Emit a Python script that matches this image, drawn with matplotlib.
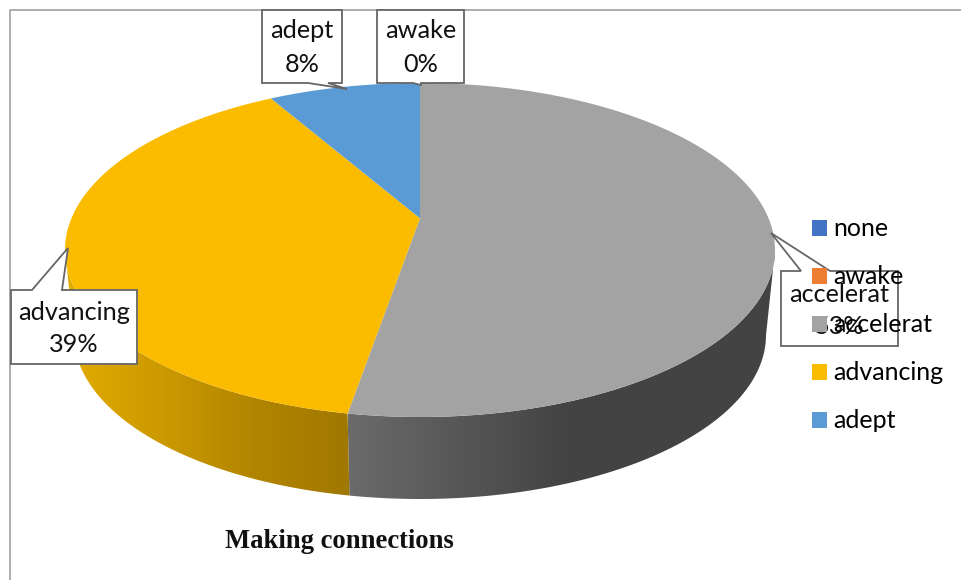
import numpy as np
import matplotlib
matplotlib.use('Agg')
import matplotlib.pyplot as plt

from matplotlib.colors import LinearSegmentedColormap
from matplotlib.patches import Patch, Polygon

categories = ['none', 'awake', 'accelerat', 'advancing', 'adept']
percents = [0, 0, 52.7, 39, 8.3]
colors = ['#4472C4', '#ED7D31', '#A3A3A3', '#FBBC00', '#5B9BD5']
chart_title = 'Making connections'

# top face and lower rim of the tilted disk, in pixels
TOP = (420, 250, 355, 167)
RIM = (420, 335, 346, 164)
TILT = 0.19  # moves the pie centre up from the ellipse centre

FONT_SIZE = 18.2

# wall shading, left to right
wall_shades = {
    'accelerat': ['#6B6B6B', '#444444', '#434343'],
    'advancing': ['#E2AC00', '#CC9A00', '#B28500', '#A07800'],
}

# box (x0, y0, x1, y1), pointer (base start, tip, base end), text centre y
callouts = {
    'adept': ((262, 10, 342, 83), ((308, 83), (347, 89), (328, 83)), (31, 65)),
    'awake': ((377, 10, 464, 83), ((413, 83), (421, 85), (421, 83)), (31, 65)),
    'advancing': ((11, 290, 137, 364), ((32, 290), (68, 248), (62, 290)), (312, 345)),
    'accelerat': ((781, 271, 898, 346), ((801, 271), (771, 233), (830, 271)), (295, 327)),
}


def disk_coords(theta):
    ''' Pie angle to position in the ellipse, with the centre moved up
    '''
    x = np.cos(np.radians(theta))
    y = np.sin(np.radians(theta))
    den = 1 + TILT * y
    return x * np.sqrt(1 - TILT ** 2) / den, (y + TILT) / den


def on_ellipse(ellipse, x, y):
    cx, cy, rx, ry = ellipse
    return cx + rx * x, cy - ry * y


def draw_wall(ax, theta1, theta2, shades):
    x, y = disk_coords(np.linspace(theta1, theta2, 600))
    front = y <= 0
    x, y = x[front], y[front]
    tx, ty = on_ellipse(TOP, x, y)
    bx, by = on_ellipse(RIM, x, y)
    pts = np.column_stack([np.r_[tx, bx[::-1]], np.r_[ty, by[::-1]]])
    outline = Polygon(pts, closed=True, transform=ax.transData, fc='none', ec='none')
    ax.add_patch(outline)

    cmap = LinearSegmentedColormap.from_list('wall', shades)
    extent = (pts[:, 0].min(), pts[:, 0].max(), pts[:, 1].max(), pts[:, 1].min())
    img = ax.imshow(np.linspace(0, 1, 256)[None, :], cmap=cmap, extent=extent, aspect='auto', zorder=1)
    img.set_clip_path(outline)


def draw_callout(ax, name, pct):
    (x0, y0, x1, y1), pointer, text_y = callouts[name]
    pts = [(x0, y0), (x1, y0), (x1, y1), (x0, y1)]
    # pointer joins the edge it starts from
    if pointer[0][1] == y0:
        pts = [(x0, y0)] + list(pointer) + pts[1:]
    else:
        pts = pts[:2] + [(x1, y1)] + list(pointer[::-1]) + [(x0, y1)]
    face = 'none' if name == 'accelerat' else 'white'
    ax.add_patch(Polygon(pts, closed=True, fc=face, ec='#666666', lw=1.3, zorder=3))
    xc = (x0 + x1) / 2
    ax.text(xc, text_y[0], name, ha='center', va='center', fontsize=FONT_SIZE, family='Lato', color='#111111', zorder=4)
    ax.text(xc, text_y[1], f'{pct:.0f}%', ha='center', va='center', fontsize=FONT_SIZE, family='Lato', color='#111111', zorder=4)


def main():
    fig = plt.figure(figsize=(9.62, 5.8), dpi=100)
    ax = fig.add_axes([0, 0, 1, 1])

    wedges, _ = ax.pie(percents, colors=colors, startangle=90, counterclock=False)
    ax.set_aspect('auto')

    apex_x, apex_y = on_ellipse(TOP, 0, TILT)
    for wedge, name, color in zip(wedges, categories, colors):
        wedge.set_visible(False)
        if name in wall_shades:
            draw_wall(ax, wedge.theta1, wedge.theta2, wall_shades[name])
        theta = np.linspace(wedge.theta1, wedge.theta2, 300)
        px, py = on_ellipse(TOP, *disk_coords(theta))
        ax.fill(np.r_[apex_x, px], np.r_[apex_y, py], color=color, lw=0, zorder=2)

    for name, pct in zip(categories, percents):
        if name in callouts:
            draw_callout(ax, name, pct)

    # chart frame, open at right and bottom
    ax.plot([10, 10, 962], [580, 9.5, 9.5], color='#A0A0A0', lw=1.2, zorder=0)

    handles = [Patch(facecolor=c, edgecolor='none') for c in colors]
    leg = ax.legend(handles, categories, loc='upper left', bbox_to_anchor=(805, 210), bbox_transform=ax.transData,
                    frameon=False, prop={'family': 'Lato', 'size': 18}, handlelength=0.6, handleheight=0.6,
                    handletextpad=0.25, labelspacing=1.0, borderpad=0.3, borderaxespad=0)
    leg.set_zorder(6)

    ax.text(339, 542, chart_title, ha='center', va='center', fontsize=19.2, family='Liberation Serif',
            fontweight='bold', color='#111111')

    ax.set_xlim(0, 962)
    ax.set_ylim(580, 0)
    ax.axis('off')
    fig.savefig('out.png', dpi=100, facecolor='white')


if __name__ == "__main__":
    main()
